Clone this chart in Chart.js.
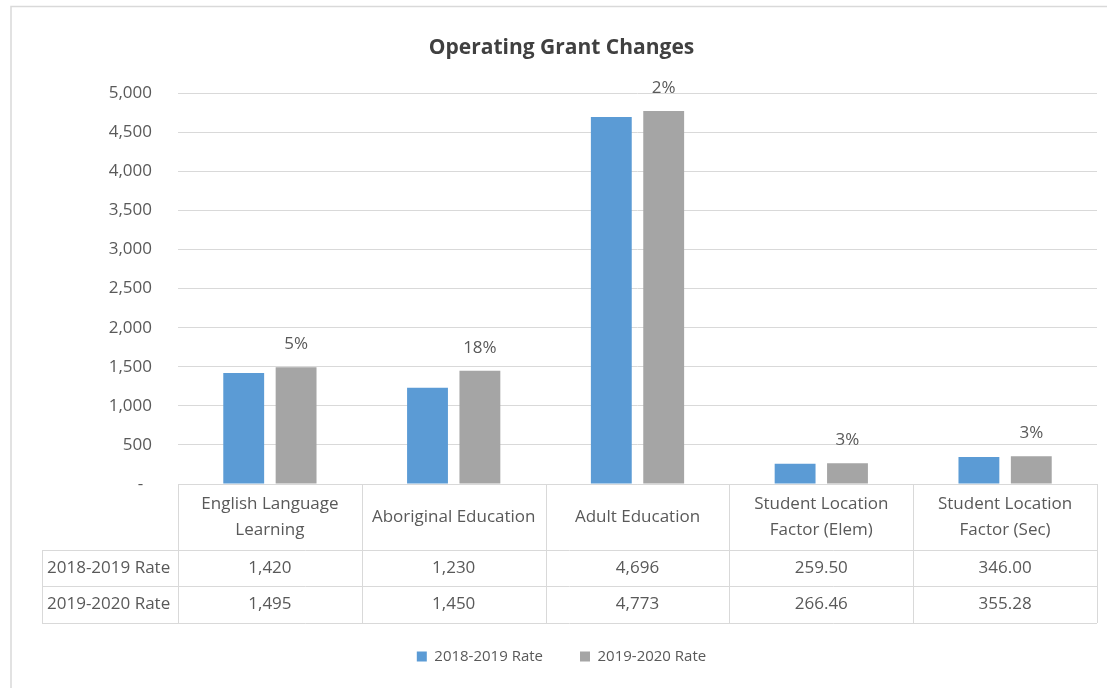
<!DOCTYPE html>
<html>
<head>
<meta charset="utf-8">
<script src="https://cdn.jsdelivr.net/npm/chart.js@4"></script>
<style>
  html, body { margin: 0; padding: 0; background: #fff; }
  #wrap { width: 1107px; height: 688px; position: relative; }
</style>
</head>
<body>
<div id="wrap"><canvas id="chart" width="1107" height="688"></canvas></div>
<script>
"use strict";

// Chart data
const categories = [
  ['English Language', 'Learning'],
  ['Aboriginal Education'],
  ['Adult Education'],
  ['Student Location', 'Factor (Elem)'],
  ['Student Location', 'Factor (Sec)']
];
const seriesNames = ['2018-2019 Rate', '2019-2020 Rate'];
const rate2018 = [1420, 1230, 4696, 259.50, 346.00];
const rate2020 = [1495, 1450, 4773, 266.46, 355.28];
const decimals = [0, 0, 0, 2, 2];
const yTicks = [0, 500, 1000, 1500, 2000, 2500, 3000, 3500, 4000, 4500, 5000];

const BLUE = '#5B9BD5';
const GRAY = '#A5A5A5';
const TEXT = '#595959';
const LINE = '#D9D9D9';
const FONT = '"Open Sans", "Noto Sans", sans-serif';

function fmt(v, d) {
  return v.toLocaleString('en-US', { minimumFractionDigits: d, maximumFractionDigits: d });
}

// Outer frame, data table under the axis and percent change labels
const tablePlugin = {
  id: 'tablePlugin',
  beforeDraw(chart) {
    const ctx = chart.ctx;
    ctx.save();
    ctx.strokeStyle = LINE;
    ctx.lineWidth = 1.5;
    ctx.beginPath();
    ctx.moveTo(11, chart.height);
    ctx.lineTo(11, 6.5);
    ctx.lineTo(chart.width, 6.5);
    ctx.stroke();
    ctx.restore();
  },
  afterDraw(chart) {
    const ctx = chart.ctx;
    const area = chart.chartArea;
    const x = chart.scales.x;
    const half = (x.getPixelForValue(1) - x.getPixelForValue(0)) / 2;
    const top = area.bottom;
    const rows = [top + 66, top + 102, top + 139];
    const leftCol = 42;

    ctx.save();
    ctx.strokeStyle = LINE;
    ctx.lineWidth = 1;

    // horizontal lines
    ctx.beginPath();
    ctx.moveTo(area.left, top + 0.5);
    ctx.lineTo(area.right, top + 0.5);
    rows.forEach(function(r) {
      ctx.moveTo(leftCol, r + 0.5);
      ctx.lineTo(area.right, r + 0.5);
    });
    // vertical lines
    ctx.moveTo(leftCol + 0.5, rows[0]);
    ctx.lineTo(leftCol + 0.5, rows[2]);
    for (let i = 0; i <= categories.length; i++) {
      const px = Math.round(x.getPixelForValue(i) - half) + 0.5;
      ctx.moveTo(px, top);
      ctx.lineTo(px, rows[2]);
    }
    ctx.stroke();

    ctx.fillStyle = TEXT;
    ctx.font = '17px ' + FONT;
    ctx.textBaseline = 'middle';
    ctx.textAlign = 'center';

    categories.forEach(function(lines, i) {
      const cx = x.getPixelForValue(i);
      const mid = (top + rows[0]) / 2;
      lines.forEach(function(l, j) {
        ctx.fillText(l, cx, mid + (j - (lines.length - 1) / 2) * 26);
      });
      ctx.fillText(fmt(rate2018[i], decimals[i]), cx, (rows[0] + rows[1]) / 2);
      ctx.fillText(fmt(rate2020[i], decimals[i]), cx, (rows[1] + rows[2]) / 2);
    });

    ctx.textAlign = 'left';
    ctx.fillText(seriesNames[0], leftCol + 5, (rows[0] + rows[1]) / 2);
    ctx.fillText(seriesNames[1], leftCol + 5, (rows[1] + rows[2]) / 2);

    // percent change labels
    ctx.textAlign = 'center';
    const meta = chart.getDatasetMeta(1);
    meta.data.forEach(function(bar, i) {
      const pct = Math.round((rate2020[i] - rate2018[i]) / rate2018[i] * 100);
      ctx.fillText(pct + '%', bar.x, bar.y - 23);
    });
    ctx.restore();
  }
};

const ctx = document.getElementById('chart');

new Chart(ctx, {
  type: 'bar',
  data: {
    labels: categories,
    datasets: [
      { label: seriesNames[0], data: rate2018, backgroundColor: BLUE },
      { label: seriesNames[1], data: rate2020, backgroundColor: GRAY }
    ]
  },
  options: {
    responsive: false,
    animation: false,
    events: [],
    categoryPercentage: 0.57,
    barPercentage: 0.78,
    layout: { padding: { left: 26, right: 10, top: 6, bottom: 14 } },
    plugins: {
      title: {
        display: true,
        text: 'Operating Grant Changes',
        color: '#404040',
        font: { family: FONT, size: 21, weight: 'bold' },
        padding: { top: 29, bottom: 33 }
      },
      legend: {
        position: 'bottom',
        labels: {
          boxWidth: 10,
          boxHeight: 10,
          padding: 37,
          color: TEXT,
          font: { family: FONT, size: 15 }
        }
      },
      tooltip: { enabled: false }
    },
    scales: {
      x: {
        grid: { display: false },
        border: { display: false },
        ticks: { display: false },
        afterFit(scale) { scale.height = 128; }
      },
      y: {
        min: 0,
        max: 5000,
        afterBuildTicks(scale) { scale.ticks = yTicks.map(function(v) { return { value: v }; }); },
        grid: { color: LINE, drawTicks: false },
        border: { display: false },
        ticks: {
          padding: 26,
          color: TEXT,
          font: { family: FONT, size: 17 },
          callback(v) { return v === 0 ? '-  ' : v.toLocaleString('en-US'); }
        },
        afterFit(scale) { scale.width = 152; }
      }
    }
  },
  plugins: [tablePlugin]
});
</script>
</body>
</html>
